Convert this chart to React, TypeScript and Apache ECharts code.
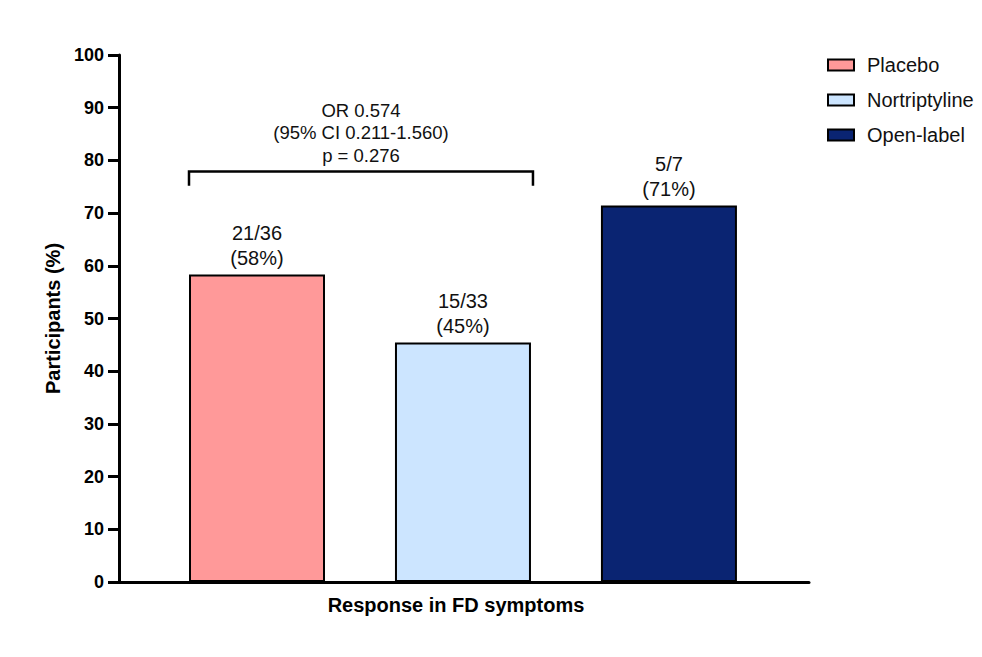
import React, { useEffect, useRef } from "react";
import * as echarts from "echarts";

const categories = ["Placebo", "Nortriptyline", "Open-label"];
const responders = [21, 15, 5];
const totals = [36, 33, 7];
const colors = ["#FF9999", "#CCE5FF", "#0A2472"];
const yMin = 0;
const yMax = 100;
const yInterval = 10;
const annotationLines = ["OR 0.574", "(95% CI 0.211-1.560)", "p = 0.276"];
const bracketFrom = 0; // category index
const bracketTo = 1;
const bracketTopValue = 77.9;
const bracketLegValue = 75.2;

const FONT = "'Liberation Sans', Arial, Helvetica, sans-serif";
const BAR_WIDTH = 136;

export default function App() {
  const ref = useRef<HTMLDivElement>(null);

  useEffect(() => {
    if (!ref.current) return;
    const chart = echarts.init(ref.current, undefined, { renderer: "svg" });

    const series = categories.map((name, i) => {
      const pct = (responders[i] / totals[i]) * 100;
      return {
        type: "bar",
        name,
        stack: "all",
        barWidth: BAR_WIDTH,
        data: [[i + 1, pct]],
        itemStyle: { color: colors[i], borderColor: "#000", borderWidth: 2 },
        label: {
          show: true,
          position: "top",
          distance: 4,
          formatter: () => `${responders[i]}/${totals[i]}\n(${Math.round(pct)}%)`,
          fontFamily: FONT,
          fontSize: 20,
          lineHeight: 25,
          color: "#111",
        },
      };
    });

    chart.setOption({
      animation: false,
      backgroundColor: "#fff",
      textStyle: { fontFamily: FONT },
      grid: { left: 119, right: 173, top: 55, bottom: 75, containLabel: false },
      legend: {
        orient: "vertical",
        left: 822,
        top: 50,
        icon: "rect",
        itemWidth: 26,
        itemHeight: 11,
        itemGap: 15,
        itemStyle: { borderColor: "#000", borderWidth: 2 },
        textStyle: {
          fontFamily: FONT,
          fontSize: 20,
          color: "#111",
          padding: [0, 0, 0, 8],
        },
        data: categories,
      },
      xAxis: {
        type: "value",
        min: 0.33,
        max: 3.68,
        axisLine: { show: true, onZero: false, lineStyle: { color: "#000", width: 3 } },
        axisTick: { show: false },
        axisLabel: { show: false },
        splitLine: { show: false },
        name: "Response in FD symptoms",
        nameLocation: "middle",
        nameGap: 13,
        nameTextStyle: {
          fontFamily: FONT,
          fontSize: 20,
          fontWeight: "bold",
          color: "#000",
          verticalAlign: "top",
          padding: [0, 16, 0, 0],
        },
      },
      yAxis: {
        type: "value",
        min: yMin,
        max: yMax,
        interval: yInterval,
        axisLine: { show: true, onZero: false, lineStyle: { color: "#000", width: 3 } },
        axisTick: { show: true, length: 11, lineStyle: { color: "#000", width: 3 } },
        axisLabel: {
          margin: 15,
          fontFamily: FONT,
          fontSize: 18,
          fontWeight: "bold",
          color: "#000",
        },
        splitLine: { show: false },
        name: "Participants (%)",
        nameLocation: "middle",
        nameGap: 56,
        nameTextStyle: {
          fontFamily: FONT,
          fontSize: 20,
          fontWeight: "bold",
          color: "#000",
        },
      },
      series,
    });

    const p0 = chart.convertToPixel({ xAxisIndex: 0, yAxisIndex: 0 }, [bracketFrom + 1, bracketTopValue]) as number[];
    const p1 = chart.convertToPixel({ xAxisIndex: 0, yAxisIndex: 0 }, [bracketTo + 1, bracketTopValue]) as number[];
    const pLeg = chart.convertToPixel({ xAxisIndex: 0, yAxisIndex: 0 }, [bracketFrom + 1, bracketLegValue]) as number[];
    const x0 = p0[0] - BAR_WIDTH / 2;
    const x1 = p1[0] + BAR_WIDTH / 2 + 2;
    const yTop = p0[1];
    const yLeg = pLeg[1];

    chart.setOption({
      graphic: [
        {
          type: "polyline",
          shape: { points: [[x0, yLeg], [x0, yTop], [x1, yTop], [x1, yLeg]] },
          style: { stroke: "#000", lineWidth: 2.5, fill: "none" },
        },
        {
          type: "text",
          x: (x0 + x1) / 2,
          y: yTop - 5,
          style: {
            text: annotationLines.join("\n"),
            fontFamily: FONT,
            fontSize: 18.5,
            lineHeight: 22.5,
            fill: "#111",
            align: "center",
            verticalAlign: "bottom",
          },
        },
      ],
    });

    return () => chart.dispose();
  }, []);

  return (
    <div
      ref={ref}
      style={{ position: "absolute", left: 0, top: 0, width: 982, height: 657, background: "#fff" }}
    />
  );
}
